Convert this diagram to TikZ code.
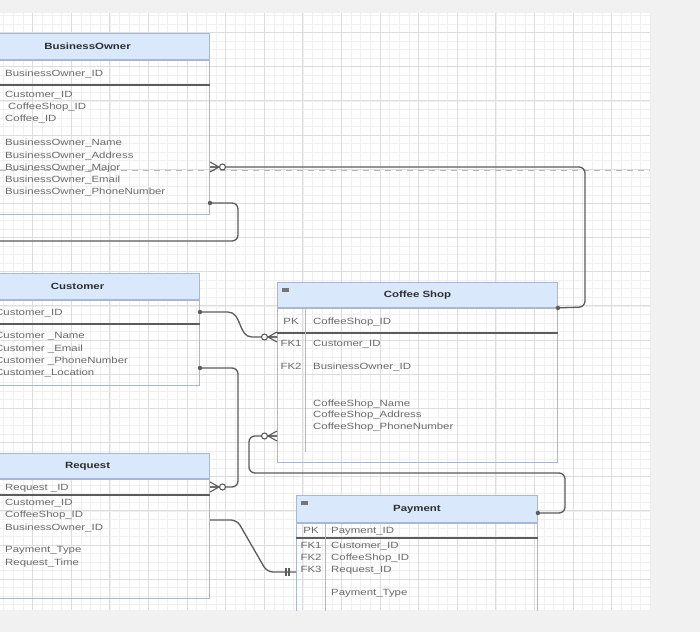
\documentclass[tikz,border=0pt]{standalone}
\usepackage{fontspec}
\setmainfont{Liberation Sans}[FakeStretch=1.27]
\usepackage{tikz}
\usetikzlibrary{calc}
\usepackage{color}

\definecolor{paper}{HTML}{F1F1F1}
\definecolor{gridmajor}{HTML}{DDDDDD}
\definecolor{gridminor}{HTML}{F0F0F0}
\definecolor{hdrfill}{HTML}{DAE8FC}
\definecolor{tblline}{HTML}{A6B8D6}
\definecolor{fieldgray}{HTML}{6A6A6A}
\definecolor{titletext}{HTML}{2E2E2E}
\definecolor{wire}{HTML}{5C5C5C}
\definecolor{pagebreak}{HTML}{B8B8B8}

\tikzset{
  tblhead/.style={draw=tblline, fill=hdrfill, line width=0.9pt, inner sep=0pt,
    font=\fontsize{9}{11}\selectfont\bfseries, text=titletext},
  tblbody/.style={draw=tblline, line width=0.9pt, inner sep=0pt},
  field/.style={anchor=west, inner sep=0pt, text height=6.5pt, text depth=0pt,
    font=\fontsize{9}{11}\selectfont, text=fieldgray},
  keycol/.style={field, anchor=center},
  sepline/.style={draw=wire, line width=1.4pt},
  relation/.style={draw=wire, line width=1.3pt, rounded corners=6pt},
  zeromany/.pic={
    \draw[wire, line width=1.1pt] (0,-5) -- (9,0) -- (0,5) (0,0) -- (9,0);
    \draw[wire, line width=1.1pt, fill=white] (12.5,0) circle (3);
  },
  onedot/.pic={
    \fill[wire] (0,0) circle (2.2);
  },
  mandone/.pic={
    \draw[wire, line width=1.1pt] (7,-4) -- (7,4) (10,-4) -- (10,4);
  }
}

\begin{document}
\begin{tikzpicture}[x=1pt, y=-1pt]
  % Sizes
  \pgfmathsetmacro{\majx}{38.6}
  \pgfmathsetmacro{\majy}{34.16}
  \useasboundingbox (0,0) rectangle (700,632);
  \fill[paper] (0,0) rectangle (700,632);
  \fill[white] (0,13) rectangle (650,610);
  \begin{scope}
    \clip (0,13) rectangle (650,610);
    % grid
    \foreach \k in {-4,...,65} {
      \draw[gridminor, line width=0.5pt] ({32.6+\majx/4*\k},13) -- ({32.6+\majx/4*\k},610);
    }
    \foreach \k in {-4,...,68} {
      \draw[gridminor, line width=0.5pt] (0,{32.5+\majy/4*\k}) -- (650,{32.5+\majy/4*\k});
    }
    \foreach \k in {-1,...,16} {
      \draw[gridmajor, line width=0.8pt] ({32.6+\majx*\k},13) -- ({32.6+\majx*\k},610);
    }
    \foreach \k in {-1,...,17} {
      \draw[gridmajor, line width=0.8pt] (0,{32.5+\majy*\k}) -- (650,{32.5+\majy*\k});
    }
    \draw[pagebreak, line width=0.9pt, dash pattern=on 6pt off 5pt] (0,170) -- (650,170);

    % BusinessOwner
    \node[tblhead, minimum width=244pt, minimum height=26pt, anchor=north east] (boHead) at (210,33) {BusinessOwner};
    \node[tblbody, minimum width=244pt, minimum height=154pt, anchor=north] (boBody) at (boHead.south) {};
    \draw[sepline] (boBody.west |- 0,85) -- (boBody.east |- 0,85);
    \node[field] (boID) at (5,73) {BusinessOwner\_ID};
    \node[field] (boCust) at (5,94) {Customer\_ID};
    \node[field] (boShop) at (8,106) {CoffeeShop\_ID};
    \node[field] (boCoffee) at (5,118) {Coffee\_ID};
    \node[field] (boName) at (5,142) {BusinessOwner\_Name};
    \node[field] (boAddr) at (5,155) {BusinessOwner\_Address};
    \node[field] (boMajor) at (5,167) {BusinessOwner\_Major};
    \node[field] (boEmail) at (5,179) {BusinessOwner\_Email};
    \node[field] (boPhone) at (5,191) {BusinessOwner\_PhoneNumber};

    % Customer
    \node[tblhead, minimum width=244pt, minimum height=26pt, anchor=north east] (cuHead) at (200,273) {Customer};
    \node[tblbody, minimum width=244pt, minimum height=85pt, anchor=north] (cuBody) at (cuHead.south) {};
    \draw[sepline] (cuBody.west |- 0,324) -- (cuBody.east |- 0,324);
    \node[field] (cuID) at (-5,312) {Customer\_ID};
    \node[field] (cuName) at (-5,335) {Customer \_Name};
    \node[field] (cuEmail) at (-5,348) {Customer \_Email};
    \node[field] (cuPhone) at (-5,360) {Customer \_PhoneNumber};
    \node[field] (cuLoc) at (-5,372) {Customer\_Location};

    % Request
    \node[tblhead, minimum width=244pt, minimum height=25pt, anchor=north east] (rqHead) at (210,453) {Request};
    \node[tblbody, minimum width=244pt, minimum height=119pt, anchor=north] (rqBody) at (rqHead.south) {};
    \draw[sepline] (rqBody.west |- 0,495) -- (rqBody.east |- 0,495);
    \node[field] (rqID) at (5,487) {Request \_ID};
    \node[field] (rqCust) at (5,502) {Customer\_ID};
    \node[field] (rqShop) at (5,514) {CoffeeShop\_ID};
    \node[field] (rqOwner) at (5,527) {BusinessOwner\_ID};
    \node[field] (rqType) at (5,549) {Payment\_Type};
    \node[field] (rqTime) at (5,562) {Request\_Time};

    % Coffee Shop
    \node[tblhead, minimum width=280pt, minimum height=25pt, anchor=north west] (csHead) at (277,282) {Coffee Shop};
    \node[tblbody, minimum width=280pt, minimum height=154pt, anchor=north] (csBody) at (csHead.south) {};
    \fill[wire!85] (282,287.5) rectangle (289,291.5);
    \draw[sepline] (csBody.west |- 0,333) -- (csBody.east |- 0,333);
    \draw[draw=tblline, line width=0.9pt] (305,307) -- (305,452);
    \node[keycol] (csPK) at (291,321) {PK};
    \node[field] (csID) at (313,321) {CoffeeShop\_ID};
    \node[keycol] (csFKa) at (291,343) {FK1};
    \node[field] (csCust) at (313,343) {Customer\_ID};
    \node[keycol] (csFKb) at (291,366) {FK2};
    \node[field] (csOwner) at (313,366) {BusinessOwner\_ID};
    \node[field] (csName) at (313,403) {CoffeeShop\_Name};
    \node[field] (csAddr) at (313,414.5) {CoffeeShop\_Address};
    \node[field] (csPhone) at (313,426) {CoffeeShop\_PhoneNumber};

    % Payment
    \node[tblhead, minimum width=241pt, minimum height=27pt, anchor=north west] (payHead) at (296,495) {Payment};
    \node[tblbody, minimum width=241pt, minimum height=130pt, anchor=north] (payBody) at (payHead.south) {};
    \fill[wire!85] (301,500.5) rectangle (308,504.5);
    \draw[sepline] (payBody.west |- 0,538) -- (payBody.east |- 0,538);
    \draw[draw=tblline, line width=0.9pt] (325,522) -- (325,640);
    \node[keycol] (payPK) at (311,530) {PK};
    \node[field] (payID) at (331,530) {Payment\_ID};
    \node[keycol] (payFKa) at (311,545) {FK1};
    \node[field] (payCust) at (331,545) {Customer\_ID};
    \node[keycol] (payFKb) at (311,557) {FK2};
    \node[field] (payShop) at (331,557) {CoffeeShop\_ID};
    \node[keycol] (payFKc) at (311,569) {FK3};
    \node[field] (payReq) at (331,569) {Request\_ID};
    \node[field] (payType) at (331,592) {Payment\_Type};

    % relationships
    \coordinate (boLoop) at (-10,241);
    \draw[relation] (boBody.east |- boMajor) -- (585,167) -- (585,307) -- (csHead.south east);
    \draw[relation] (boBody.east |- 0,203) -- (238,203) -- (238,241) -- (boLoop);
    \draw[relation] (cuBody.east |- cuID) -- (222,312) .. controls (242,312) and (238,337) .. (258,337) -- (csBody.west |- 0,337);
    \draw[relation] (cuBody.east |- 0,368) -- (238,368) -- (238,487) -- (rqBody.east |- rqID);
    \draw[relation] (csBody.west |- 0,436) -- (249,436) -- (249,473) -- (565,473) -- (565,513) -- (payHead.east |- 0,513);
    \draw[relation] (rqBody.east |- 0,520) -- (237,520) -- (267,572) -- (payBody.west |- 0,572);

    % ends
    \pic at (boBody.east |- boMajor) {zeromany};
    \pic at (csHead.south east) {onedot};
    \pic at (boBody.east |- 0,203) {onedot};
    \pic at (cuBody.east |- cuID) {onedot};
    \pic[rotate=180] at (csBody.west |- 0,337) {zeromany};
    \pic at (cuBody.east |- 0,368) {onedot};
    \pic at (rqBody.east |- rqID) {zeromany};
    \pic[rotate=180] at (csBody.west |- 0,436) {zeromany};
    \pic at (payHead.east |- 0,513) {onedot};
    \pic[rotate=180] at (payBody.west |- 0,572) {mandone};
  \end{scope}
\end{tikzpicture}
\end{document}
